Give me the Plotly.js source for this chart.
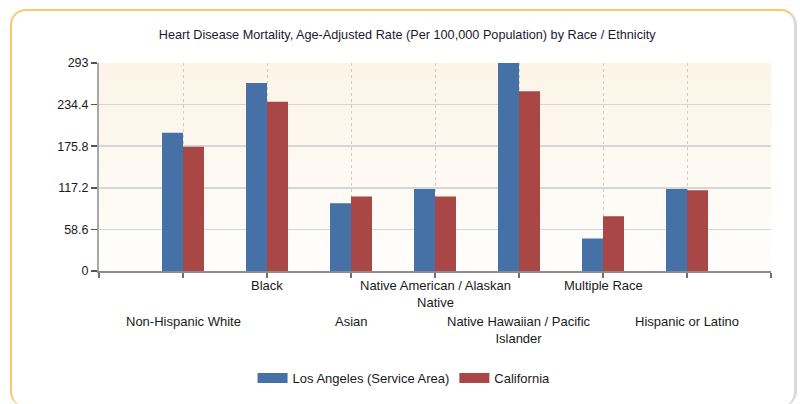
<!DOCTYPE html>
<html>
<head>
<meta charset="utf-8">
<script src="https://cdn.plot.ly/plotly-3.0.1.min.js"></script>
<style>
  html, body { margin:0; padding:0; background:#ffffff; }
  #frame { position:absolute; left:10px; top:9px; width:787px; height:398px;
           border:2px solid #f8c96c; border-right:3px solid #d9d9d9; border-bottom:none;
           border-radius:16px; box-sizing:border-box; background:#fff; }
  #chart { position:absolute; left:0; top:0; width:800px; height:404px; }
</style>
</head>
<body>
<div id="frame"></div>
<div id="chart"></div>
<script>
const categories = ["Non-Hispanic White", "Black", "Asian", "Native American / Alaskan<br>Native",
                    "Native Hawaiian / Pacific<br>Islander", "Multiple Race", "Hispanic or Latino"];
const losAngeles = [194.9, 265.0, 95.3, 115.4, 293.0, 45.8, 115.4];
const california = [175.2, 238.3, 105.1, 105.1, 253.3, 77.1, 113.6];
const yTicks = [0, 58.6, 117.2, 175.8, 234.4, 293];
const seriesNames = ["Los Angeles (Service Area)", "California"];
const seriesColors = ["#4671a6", "#a94646"];

const xPos = categories.map((c, i) => i + 1);
const font = "Liberation Sans, Arial, sans-serif";

const traces = [
  { type:"bar", name:seriesNames[0], x:xPos, y:losAngeles, marker:{color:seriesColors[0]}, width:0.25, offset:-0.25, showlegend:false },
  { type:"bar", name:seriesNames[1], x:xPos, y:california, marker:{color:seriesColors[1]}, width:0.25, offset:0, showlegend:false },
  // legend entries (wide swatches like the reference)
  { type:"scatter", mode:"lines", name:seriesNames[0], x:[null], y:[null], line:{color:seriesColors[0], width:11} },
  { type:"scatter", mode:"lines", name:seriesNames[1], x:[null], y:[null], line:{color:seriesColors[1], width:11} }
];

const annotations = categories.map((c, i) => ({
  x: i + 1, xref:"x", yref:"paper",
  y: (i % 2 === 1) ? -0.026 : -0.197,
  yanchor:"top", xanchor:"center", showarrow:false, align:"center",
  text:c, font:{family:font, size:13, color:"#1a1a1a"}
}));

const grad = 'data:image/svg+xml;utf8,' + encodeURIComponent(
  '<svg xmlns="http://www.w3.org/2000/svg" width="10" height="100" preserveAspectRatio="none">' +
  '<defs><linearGradient id="g" x1="0" y1="0" x2="0" y2="1">' +
  '<stop offset="0" stop-color="#fcf4e6"/><stop offset="1" stop-color="#fffefd"/></linearGradient></defs>' +
  '<rect width="10" height="100" fill="url(#g)"/></svg>');

const layout = {
  width:800, height:404,
  margin:{l:99, r:29, t:63, b:132},
  paper_bgcolor:"rgba(0,0,0,0)", plot_bgcolor:"rgba(0,0,0,0)",
  title:{text:"Heart Disease Mortality, Age-Adjusted Rate (Per 100,000 Population) by Race / Ethnicity",
         font:{family:font, size:12.7, color:"#1a1a2e"}, x:0.509, xanchor:"center", y:0.915, yanchor:"middle"},
  showlegend:true,
  legend:{orientation:"h", x:0.2285, xanchor:"left", y:-0.507, yanchor:"middle", itemwidth:30,
          font:{family:font, size:13, color:"#1a1a1a"}, bgcolor:"rgba(0,0,0,0)", traceorder:"normal"},
  xaxis:{range:[0,8], tickvals:[0,1,2,3,4,5,6,7,8], ticktext:["","","","","","","","",""],
         showgrid:true, gridcolor:"#cfcfcf", griddash:"dot", gridwidth:1,
         ticks:"outside", ticklen:5, tickcolor:"#707070", tickwidth:1.5,
         showline:true, linecolor:"#8c8c8c", linewidth:2, zeroline:false, fixedrange:true},
  yaxis:{range:[0,293], tickvals:yTicks, ticktext:yTicks.map(v => String(v)),
         showgrid:true, gridcolor:"#d6d6d6", gridwidth:1.5,
         ticks:"outside", ticklen:6, tickcolor:"#555555", tickwidth:1.5,
         showline:true, linecolor:"#a8a8a8", linewidth:2, zeroline:false,
         tickfont:{family:font, size:12.5, color:"#1a1a1a"}, fixedrange:true},
  images:[{source:grad, xref:"paper", yref:"paper", x:0, y:1, sizex:1, sizey:1,
           sizing:"stretch", layer:"below", xanchor:"left", yanchor:"top"}],
  annotations:annotations,
  bargap:0.5
};

Plotly.newPlot("chart", traces, layout, {displayModeBar:false, staticPlot:true});
</script>
</body>
</html>
